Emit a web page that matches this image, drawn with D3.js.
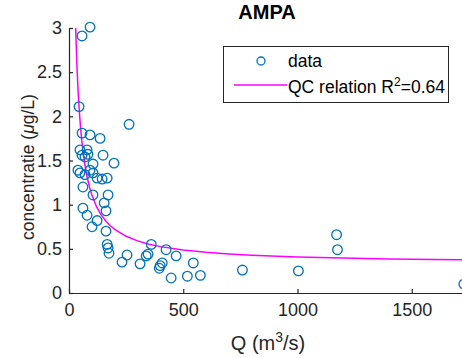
<!DOCTYPE html>
<html><head><meta charset="utf-8">
<script src="https://cdn.jsdelivr.net/npm/d3@7"></script>
<style>body{margin:0;background:#fff}svg{display:block}text{font-family:"Liberation Sans",Arial,Helvetica,sans-serif}</style>
</head><body>
<script>
// Data
const Q = [92,57,44,263,57,92,136,48,79,83,57,70,149,197,105,39,48,92,70,105,123,145,167,61,171,105,154,162,61,79,123,101,162,167,171,175,254,232,311,338,346,360,425,399,408,395,469,544,447,518,575,759,1004,1171,1175,1728];
const C = [3.01,2.91,2.11,1.91,1.81,1.79,1.75,1.62,1.62,1.57,1.56,1.54,1.56,1.47,1.46,1.39,1.36,1.39,1.34,1.36,1.30,1.29,1.30,1.20,1.11,1.11,1.02,0.93,0.96,0.88,0.82,0.75,0.70,0.55,0.51,0.45,0.43,0.35,0.33,0.42,0.44,0.55,0.49,0.31,0.34,0.28,0.42,0.34,0.17,0.19,0.20,0.26,0.25,0.66,0.49,0.10];
// QC relation: C = fitA + fitB / Q
const fitA = 0.33, fitB = 78;
const curveQ = [26,28,30,33,36,40,45,50,55,60,70,80,90,100,120,140,160,180,200,250,300,350,400,500,600,700,800,1000,1200,1400,1600,1800,2000];
const xTicks = [0,500,1000,1500];
const yTicks = [0,0.5,1,1.5,2,2.5,3];

const W=462,H=358;
const svg=d3.select("body").append("svg").attr("width",W).attr("height",H);
const x=d3.scaleLinear().domain([0,2000]).range([69,69+2000*0.2285]);
const y=d3.scaleLinear().domain([0,3]).range([293,28]);
const axCol="#262626";

// axes
const xa=svg.append("g").attr("transform","translate(0,293)")
  .call(d3.axisBottom(x).tickValues(xTicks).tickFormat(d3.format("d")).tickSizeInner(-4).tickSizeOuter(0).tickPadding(10));
const ya=svg.append("g").attr("transform","translate(69,0)")
  .call(d3.axisLeft(y).tickValues(yTicks).tickFormat(d=>String(d)).tickSizeInner(-4).tickSizeOuter(0).tickPadding(7));
[xa,ya].forEach(g=>{
  g.select(".domain").attr("stroke",axCol).attr("stroke-width",1.2);
  g.selectAll(".tick line").attr("stroke",axCol).attr("stroke-width",1.2);
  g.selectAll(".tick text").attr("fill",axCol).style("font-size","18px").style("font-family","'Liberation Sans',Arial,sans-serif");
});

// clip
svg.append("clipPath").attr("id","clip").append("rect").attr("x",69).attr("y",28).attr("width",W).attr("height",265);

// curve
const line=d3.line().x(d=>x(d)).y(d=>y(fitA+fitB/d));
svg.append("path").attr("clip-path","url(#clip)").attr("d",line(curveQ))
  .attr("fill","none").attr("stroke","#ff00ff").attr("stroke-width",1.5);

// points
svg.append("g").selectAll("circle").data(Q.map((q,i)=>[q,C[i]])).join("circle")
  .attr("cx",d=>x(d[0])).attr("cy",d=>y(d[1])).attr("r",4.8)
  .attr("fill","none").attr("stroke","#0072BD").attr("stroke-width",1.3);

// title
svg.append("text").attr("x",267).attr("y",19).attr("text-anchor","middle")
  .style("font-size","20px").style("font-weight","bold").attr("fill","#000").text("AMPA");

// axis labels
const xl=svg.append("text").attr("x",268).attr("y",350).attr("text-anchor","middle").style("font-size","20px").attr("fill",axCol);
xl.append("tspan").text("Q (m");
xl.append("tspan").attr("dy",-8).style("font-size","14px").text("3");
xl.append("tspan").attr("dy",8).text("/s)");
const yl=svg.append("text").attr("transform","translate(34,167) rotate(-90)").attr("text-anchor","middle")
  .style("font-size","17.5px").attr("fill",axCol);
yl.append("tspan").text("concentratie (");
yl.append("tspan").style("font-style","italic").text("\u03BC");
yl.append("tspan").text("g/L)");

// legend
const lg=svg.append("g");
lg.append("rect").attr("x",223.5).attr("y",46.5).attr("width",225).attr("height",56)
  .attr("fill","#fff").attr("stroke",axCol).attr("stroke-width",1);
lg.append("circle").attr("cx",261).attr("cy",61).attr("r",4).attr("fill","none").attr("stroke","#0072BD").attr("stroke-width",1.3);
lg.append("text").attr("x",288).attr("y",67).style("font-size","17.5px").attr("fill","#000").text("data");
lg.append("line").attr("x1",234).attr("x2",287).attr("y1",85).attr("y2",85).attr("stroke","#ff00ff").attr("stroke-width",1.5);
const lt=lg.append("text").attr("x",288).attr("y",93).style("font-size","17.5px").attr("fill","#000");
lt.append("tspan").text("QC relation R");
lt.append("tspan").attr("dy",-7).style("font-size","12px").text("2");
lt.append("tspan").attr("dy",7).text("=0.64");
</script>
</body></html>
